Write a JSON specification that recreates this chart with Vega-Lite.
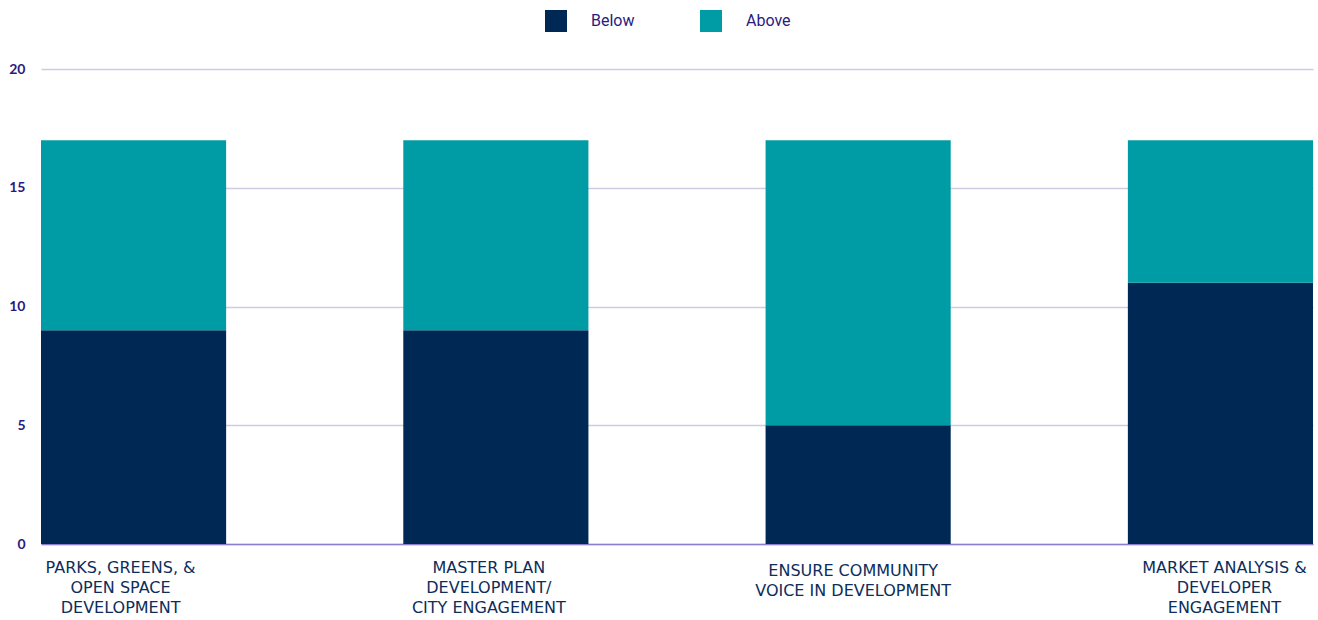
{
  "$schema": "https://vega.github.io/schema/vega-lite/v6.json",
  "autosize": "none",
  "width": 1272,
  "height": 475,
  "padding": {"left": 41, "top": 69, "right": 5, "bottom": 76},
  "background": "white",
  "config": {"view": {"stroke": null}},
  "data": {
    "values": [
      {"category": "PARKS, GREENS, &|OPEN SPACE|DEVELOPMENT", "series": "Below", "order": 1, "value": 9},
      {"category": "PARKS, GREENS, &|OPEN SPACE|DEVELOPMENT", "series": "Above", "order": 2, "value": 8},
      {"category": "MASTER PLAN|DEVELOPMENT/|CITY ENGAGEMENT", "series": "Below", "order": 1, "value": 9},
      {"category": "MASTER PLAN|DEVELOPMENT/|CITY ENGAGEMENT", "series": "Above", "order": 2, "value": 8},
      {"category": "ENSURE COMMUNITY|VOICE IN DEVELOPMENT", "series": "Below", "order": 1, "value": 5},
      {"category": "ENSURE COMMUNITY|VOICE IN DEVELOPMENT", "series": "Above", "order": 2, "value": 12},
      {"category": "MARKET ANALYSIS &|DEVELOPER|ENGAGEMENT", "series": "Below", "order": 1, "value": 11},
      {"category": "MARKET ANALYSIS &|DEVELOPER|ENGAGEMENT", "series": "Above", "order": 2, "value": 6}
    ]
  },
  "mark": {"type": "bar"},
  "encoding": {
    "x": {
      "field": "category",
      "type": "nominal",
      "sort": null,
      "title": null,
      "scale": {"paddingInner": 0.489, "paddingOuter": 0},
      "axis": {
        "labelExpr": "split(datum.label, '|')",
        "labelAngle": 0,
        "labelFont": "DejaVu Sans",
        "labelFontSize": 16,
        "labelColor": "#0d2d5a",
        "labelLineHeight": 20,
        "labelBaseline": "top",
        "labelPadding": {"expr": "indexof(datum.value, 'ENSURE') == 0 ? 18 : 15"},
        "labelLimit": 300,
        "labelOffset": {"expr": "indexof(datum.value, 'PARKS') == 0 ? -13 : indexof(datum.value, 'MASTER') == 0 ? -7 : indexof(datum.value, 'ENSURE') == 0 ? -5 : 4"},
        "ticks": false,
        "domain": true,
        "domainColor": "#8a7fcc",
        "domainWidth": 1.5,
        "grid": false
      }
    },
    "y": {
      "field": "value",
      "type": "quantitative",
      "stack": "zero",
      "title": null,
      "scale": {"domain": [0, 20], "nice": false},
      "axis": {
        "values": [0, 5, 10, 15, 20],
        "labelFont": "Lato",
        "labelFontSize": 14,
        "labelFontWeight": "bold",
        "labelColor": "#2a1a80",
        "labelPadding": 16,
        "ticks": false,
        "domain": false,
        "gridColor": "#cdcae4",
        "gridWidth": 1.5
      }
    },
    "color": {
      "field": "series",
      "type": "nominal",
      "scale": {"domain": ["Below", "Above"], "range": ["#002855", "#009ca6"]},
      "legend": {
        "title": null,
        "orient": "none",
        "direction": "horizontal",
        "legendX": 504,
        "legendY": -59,
        "symbolType": "square",
        "symbolSize": 484,
        "symbolStrokeWidth": 0,
        "symbolOpacity": 1,
        "labelFont": "Roboto",
        "labelFontSize": 16,
        "labelColor": "#2a1a80",
        "labelOffset": 24,
        "columnPadding": 65
      }
    },
    "order": {"field": "order", "type": "quantitative"}
  }
}
